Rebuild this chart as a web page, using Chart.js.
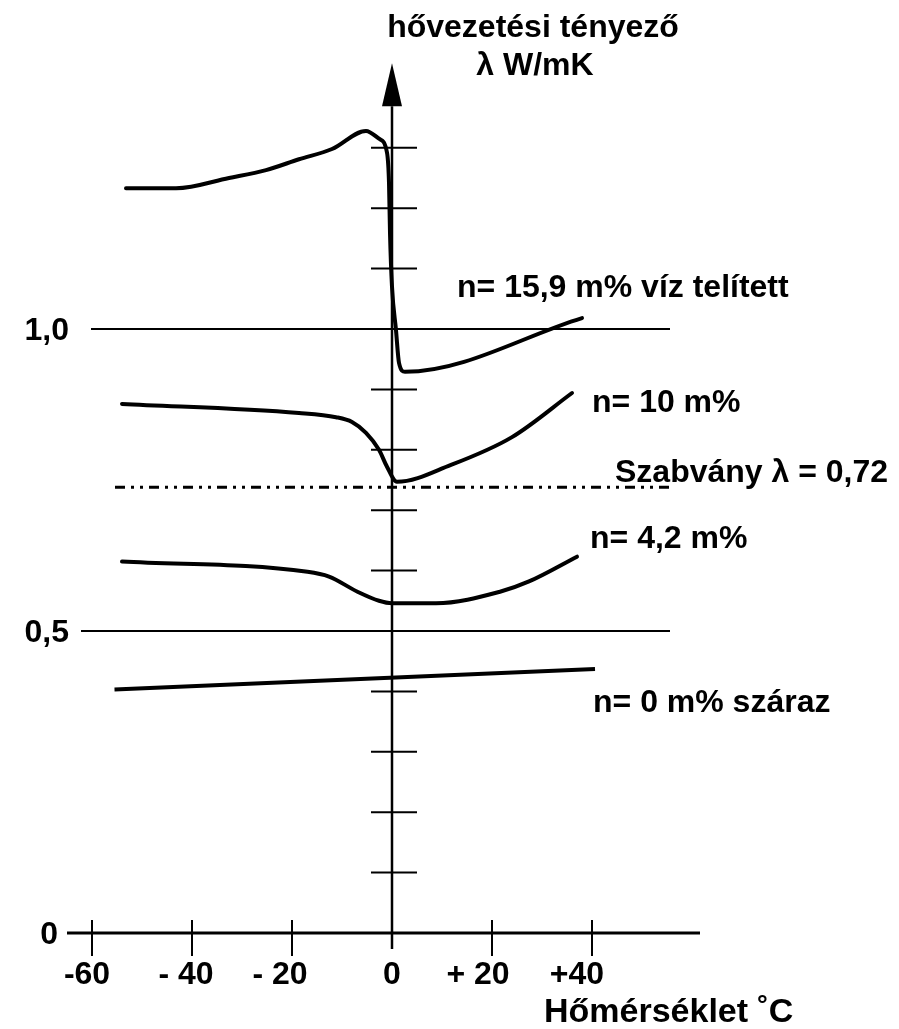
<!DOCTYPE html>
<html>
<head>
<meta charset="utf-8">
<script src="https://cdn.jsdelivr.net/npm/chart.js@4"></script>
<style>
html,body{margin:0;padding:0;background:#fff;}
#c{display:block;}
</style>
</head>
<body>
<canvas id="c" width="899" height="1029"></canvas>
<script>
// ---- data (temperature °C, conductivity λ W/mK) ----
const temp159 = [-53.2, -43.2, -32.6, -25.2, -18.6, -12.0, -5.2, -2.6, -1.0, -0.6, -0.4, 0.0, 0.8, 1.4, 2.6, 38.0];
const lam159  = [1.233, 1.233, 1.250, 1.263, 1.281, 1.298, 1.328, 1.315, 1.292, 1.242, 1.159, 1.070, 0.998, 0.944, 0.929, 1.018];

const temp10 = [-54.0, -18.6, -11.2, -8.0, -5.2, -2.6, -1.0, 1.0, 11.8, 24.0, 36.0];
const lam10  = [0.876, 0.861, 0.854, 0.846, 0.828, 0.800, 0.772, 0.747, 0.775, 0.821, 0.894];

const temp42 = [-54.0, -16.9, -12.6, -6.9, -2.6, 0.0, 8.8, 21.6, 27.4, 37.0];
const lam42  = [0.615, 0.598, 0.590, 0.565, 0.550, 0.546, 0.546, 0.565, 0.582, 0.623];

const temp0 = [-55.5, 40.6];
const lam0  = [0.403, 0.437];

const stdTemp = [-55.4, 56.6];
const stdLam  = [0.738, 0.738];

const ref10Temp = [-60.2, 55.6];
const ref05Temp = [-62.2, 55.6];

const xTicks = [-60, -40, -20, 0, 20, 40];
const xTickLabels = ['-60', '- 40', '- 20', '0', '+ 20', '+40'];
const yMinorTicks = [0.1, 0.2, 0.3, 0.4, 0.6, 0.7, 0.8, 0.9, 1.1, 1.2, 1.3];
const yLabelValues = [0, 0.5, 1.0];
const yLabels = ['0', '0,5', '1,0'];

const seriesLabels = ['n= 15,9 m% víz telített', 'n= 10 m%', 'n= 4,2 m%', 'n= 0 m% száraz'];
const stdLabel = 'Szabvány λ = 0,72';
const titleLine1 = 'hővezetési tényező';
const titleLine2 = 'λ W/mK';
const xTitle = 'Hőmérséklet ˚C';

// ---- helpers ----
const pts = (xs, ys) => xs.map((x, i) => ({x, y: ys[i]}));
const FONT = 'bold 32px "Liberation Sans", Arial, sans-serif';

function curve(xs, ys) {
  return {data: pts(xs, ys), borderColor: '#000', borderWidth: 4, pointRadius: 0,
          cubicInterpolationMode: 'monotone', fill: false, borderCapStyle: 'round', borderJoinStyle: 'round'};
}
function straight(xs, ys, w, dash) {
  return {data: pts(xs, ys), borderColor: '#000', borderWidth: w, pointRadius: 0,
          tension: 0, fill: false, borderDash: dash || [], borderCapStyle: 'butt'};
}

const axesPlugin = {
  id: 'axesPlugin',
  beforeDatasetsDraw(chart) {
    const ctx = chart.ctx, xs = chart.scales.x, ys = chart.scales.y;
    const x0 = xs.getPixelForValue(0), y0 = ys.getPixelForValue(0);
    ctx.save();
    ctx.strokeStyle = '#000'; ctx.fillStyle = '#000';
    // x axis line
    ctx.lineWidth = 3;
    ctx.beginPath();
    ctx.moveTo(xs.getPixelForValue(-65), y0);
    ctx.lineTo(xs.getPixelForValue(61.6), y0);
    ctx.stroke();
    // x ticks
    ctx.lineWidth = 2;
    xTicks.forEach(v => {
      if (v === 0) return;
      const px = xs.getPixelForValue(v);
      ctx.beginPath(); ctx.moveTo(px, y0 - 13); ctx.lineTo(px, y0 + 23); ctx.stroke();
    });
    // y axis line
    const tipY = ys.getPixelForValue(1.44);
    const baseY = tipY + 43;
    ctx.lineWidth = 2.5;
    ctx.beginPath();
    ctx.moveTo(x0, y0 + 16);
    ctx.lineTo(x0, baseY);
    ctx.stroke();
    // arrow head
    ctx.beginPath();
    ctx.moveTo(x0, tipY);
    ctx.lineTo(x0 + 10, baseY);
    ctx.lineTo(x0 - 10, baseY);
    ctx.closePath();
    ctx.fill();
    // y minor ticks
    ctx.lineWidth = 2;
    yMinorTicks.forEach(v => {
      const py = ys.getPixelForValue(v);
      ctx.beginPath(); ctx.moveTo(x0 - 21, py); ctx.lineTo(x0 + 25, py); ctx.stroke();
    });
    ctx.restore();
  },
  afterDatasetsDraw(chart) {
    const ctx = chart.ctx, xs = chart.scales.x, ys = chart.scales.y;
    ctx.save();
    ctx.fillStyle = '#000';
    ctx.font = FONT;
    ctx.textBaseline = 'alphabetic';
    // x tick labels (printed slightly left of the ticks, as in the original)
    const xLabelShift = [-5, -6, -12, 0, -14, -15];
    ctx.textAlign = 'center';
    xTicks.forEach((v, i) => {
      ctx.fillText(xTickLabels[i], xs.getPixelForValue(v) + xLabelShift[i], 984);
    });
    // y labels
    ctx.textAlign = 'right';
    yLabelValues.forEach((v, i) => {
      const py = ys.getPixelForValue(v);
      ctx.fillText(yLabels[i], v === 0 ? 58 : 69, py + 11);
    });
    // titles
    ctx.textAlign = 'center';
    ctx.fillText(titleLine1, 533, 37);
    ctx.fillText(titleLine2, 535, 75);
    ctx.textAlign = 'left';
    ctx.font = 'bold 34px "Liberation Sans", Arial, sans-serif';
    ctx.fillText(xTitle, 544, 1022);
    ctx.font = FONT;
    // series labels
    ctx.fillText(seriesLabels[0], 457, 297);
    ctx.fillText(seriesLabels[1], 592, 412);
    ctx.fillText(stdLabel, 615, 482);
    ctx.fillText(seriesLabels[2], 590, 548);
    ctx.fillText(seriesLabels[3], 593, 712);
    ctx.restore();
  }
};

new Chart(document.getElementById('c'), {
  type: 'scatter',
  data: {
    datasets: [
      straight(ref10Temp, [1.0, 1.0], 2),
      straight(ref05Temp, [0.5, 0.5], 2),
      straight(stdTemp, stdLam, 3, [10, 6, 3, 6, 3, 6]),
      curve(temp159, lam159),
      curve(temp10, lam10),
      curve(temp42, lam42),
      straight(temp0, lam0, 4)
    ].map(d => Object.assign(d, {showLine: true}))
  },
  options: {
    responsive: false,
    devicePixelRatio: 1,
    animation: false,
    layout: {padding: 0},
    plugins: {legend: {display: false}, tooltip: {enabled: false}, title: {display: false}},
    scales: {
      x: {type: 'linear', display: false, min: -78.4, max: 101.4},
      y: {type: 'linear', display: false, min: -0.159, max: 1.5447}
    }
  },
  plugins: [axesPlugin]
});
</script>
</body>
</html>
